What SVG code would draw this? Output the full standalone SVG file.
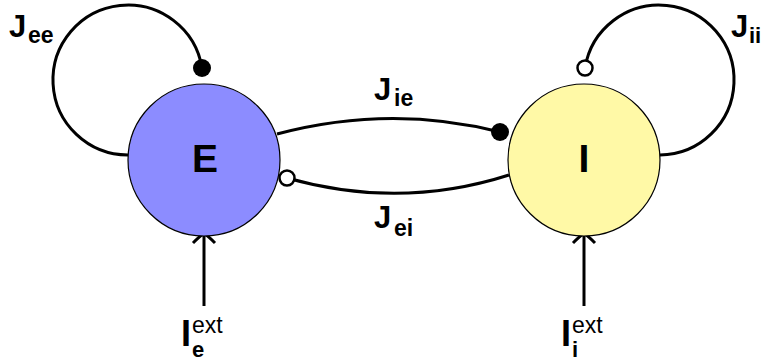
<svg xmlns="http://www.w3.org/2000/svg" width="762" height="363" viewBox="0 0 762 363">
<style>
.wire{fill:none;stroke:#000;stroke-width:3}
.node{stroke:#000;stroke-width:1.2}
.lbl{font-family:"Liberation Sans",Arial,sans-serif;font-weight:bold;fill:#000}
.reg{font-weight:normal}
</style>
<rect width="762" height="363" fill="#fff"/>
<g id="connectors">
<path class="wire" d="M128,155 A75,75 0 1 1 202,68"/>
<circle cx="202" cy="68" r="9" fill="#000"/>
<path class="wire" d="M660,155 A75,75 0 1 0 585,68"/>
<circle cx="585" cy="68" r="7.5" fill="#fff" stroke="#000" stroke-width="2.5"/>
<path class="wire" d="M277,134 Q390,104 500,132"/>
<circle cx="500" cy="132" r="9" fill="#000"/>
<path class="wire" d="M509,175 Q400,210 287,178"/>
<circle cx="287" cy="178" r="7.5" fill="#fff" stroke="#000" stroke-width="2.5"/>
<path class="wire" d="M204,306 L204,234"/>
<path class="wire" d="M193,243 C198,238 202,235 204,232.5 C206,235 210,238 215,243"/>
<path class="wire" d="M584,306 L584,234"/>
<path class="wire" d="M573,243 C578,238 582,235 584,232.5 C586,235 590,238 595,243"/>
</g>
<g id="E">
<circle class="node" cx="204" cy="160" r="76" fill="#8c8cff"/>
<text class="lbl" x="205" y="172" font-size="39" text-anchor="middle">E</text>
</g>
<g id="I">
<circle class="node" cx="584" cy="160" r="76" fill="#fff9a6"/>
<text class="lbl" x="584" y="172" font-size="39" text-anchor="middle">I</text>
</g>
<g id="labels">
<text class="lbl" x="9" y="37" font-size="31">J<tspan x="28" y="43" font-size="23">ee</tspan></text>
<text class="lbl" x="731" y="37" font-size="31">J<tspan x="749" y="43" font-size="22">ii</tspan></text>
<text class="lbl" x="374" y="100" font-size="31">J<tspan x="394" y="106" font-size="23">ie</tspan></text>
<text class="lbl" x="374" y="228" font-size="31">J<tspan x="394" y="236" font-size="23">ei</tspan></text>
<text class="lbl" x="181" y="346" font-size="36">I<tspan class="reg" x="192" y="333" font-size="23">ext</tspan><tspan x="192" y="357" font-size="22">e</tspan></text>
<text class="lbl" x="561" y="346" font-size="36">I<tspan class="reg" x="572" y="333" font-size="23">ext</tspan><tspan x="572" y="357" font-size="22">i</tspan></text>
</g>
</svg>
